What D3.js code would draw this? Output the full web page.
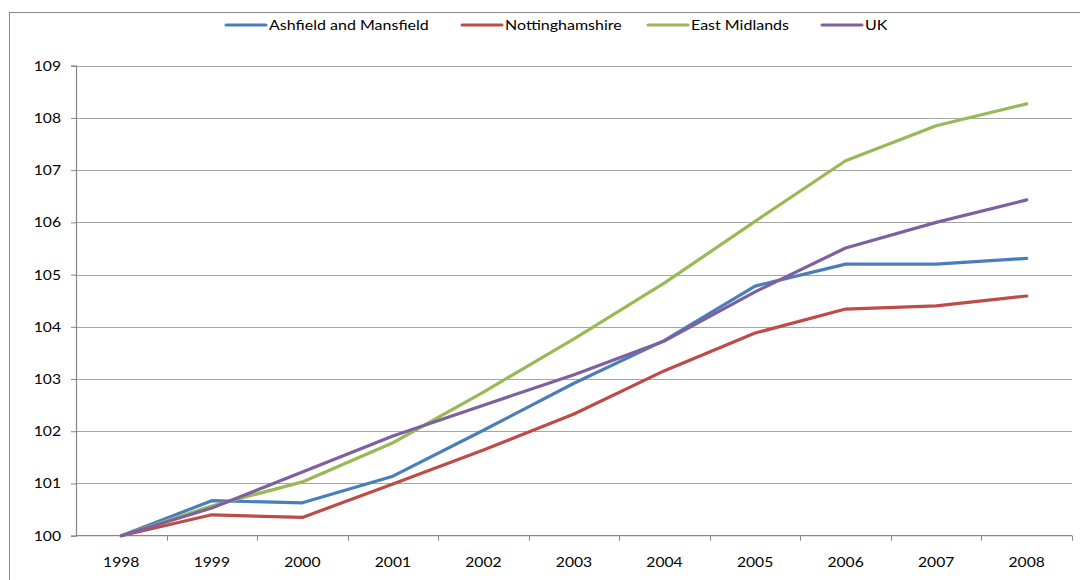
<!DOCTYPE html>
<html>
<head>
<meta charset="utf-8">
<script src="https://cdn.jsdelivr.net/npm/d3@7"></script>
<style>
  html, body { margin: 0; padding: 0; background: #fff; }
  svg text { font-family: Lato, "Open Sans", sans-serif; fill: #000; }
</style>
</head>
<body>
<svg id="chart" width="1080" height="580"></svg>
<script>
// Population index (1998 = 100)
const years = ["1998","1999","2000","2001","2002","2003","2004","2005","2006","2007","2008"];
const seriesNames = ["Ashfield and Mansfield", "Nottinghamshire", "East Midlands", "UK"];
const ashfieldMansfield = [100, 100.67, 100.63, 101.14, 102.02, 102.92, 103.74, 104.78, 105.20, 105.20, 105.31];
const nottinghamshire  = [100, 100.40, 100.35, 100.99, 101.64, 102.33, 103.16, 103.88, 104.34, 104.40, 104.59];
const eastMidlands     = [100, 100.57, 101.03, 101.78, 102.75, 103.77, 104.84, 106.02, 107.18, 107.85, 108.27];
const uk               = [100, 100.53, 101.22, 101.91, 102.50, 103.08, 103.73, 104.67, 105.51, 106.00, 106.43];
const yTicks = [100, 101, 102, 103, 104, 105, 106, 107, 108, 109];
const colors = ["#4A7EBB", "#BE4B48", "#98B954", "#7D60A0"];

const allSeries = [ashfieldMansfield, nottinghamshire, eastMidlands, uk];

const svg = d3.select("#chart");
const plot = { left: 76, right: 1072, top: 65.7, bottom: 535.7 };
const TEXT_STRETCH = 1.12;

// chart frame
svg.append("rect")
  .attr("x", 9.5).attr("y", 12.5)
  .attr("width", 1100).attr("height", 600)
  .attr("fill", "none").attr("stroke", "#868686").attr("stroke-width", 1);

const x = d3.scaleBand().domain(years).range([plot.left, plot.right]).padding(0);
const y = d3.scaleLinear().domain([100, 109]).range([plot.bottom, plot.top]);

// horizontal gridlines
svg.append("g")
  .selectAll("line")
  .data(yTicks.filter(t => t !== 100))
  .join("line")
  .attr("x1", plot.left).attr("x2", plot.right)
  .attr("y1", d => Math.round(y(d)) + 0.5).attr("y2", d => Math.round(y(d)) + 0.5)
  .attr("stroke", "#A6A6A6").attr("stroke-width", 1.2);

// y axis
const yAxis = svg.append("g")
  .attr("transform", `translate(${plot.left},0)`)
  .call(d3.axisLeft(y).tickValues(yTicks).tickFormat(d3.format("d")).tickSize(5).tickPadding(10));
yAxis.select(".domain").attr("stroke", "#868686").attr("stroke-width", 1.2);
yAxis.selectAll(".tick line").attr("stroke", "#868686");
yAxis.selectAll("text")
  .attr("font-size", 14)
  .attr("font-family", "Lato")
  .attr("fill", "#000")
  .each(function() {
    const t = d3.select(this);
    const xx = +t.attr("x");
    t.attr("x", xx / TEXT_STRETCH).attr("transform", `scale(${TEXT_STRETCH},1)`);
  });

// x axis: ticks sit on category boundaries
const xAxisG = svg.append("g").attr("transform", `translate(0,${plot.bottom})`);
xAxisG.append("line")
  .attr("x1", plot.left).attr("x2", plot.right)
  .attr("y1", 0).attr("y2", 0)
  .attr("stroke", "#868686").attr("stroke-width", 1.2);
const boundaries = years.map(yv => x(yv)).concat([x(years[years.length - 1]) + x.bandwidth()]).slice(1);
xAxisG.selectAll("line.tk")
  .data(boundaries)
  .join("line").attr("class", "tk")
  .attr("x1", d => Math.round(d) + 0.5).attr("x2", d => Math.round(d) + 0.5)
  .attr("y1", 0).attr("y2", 5)
  .attr("stroke", "#868686");
xAxisG.selectAll("text")
  .data(years)
  .join("text")
  .attr("x", d => (x(d) + x.bandwidth() / 2) / TEXT_STRETCH)
  .attr("transform", `scale(${TEXT_STRETCH},1)`)
  .attr("y", 31)
  .attr("text-anchor", "middle")
  .attr("font-size", 14)
  .text(d => d);

// series lines
const line = d3.line()
  .x((d, i) => x(years[i]) + x.bandwidth() / 2)
  .y(d => y(d));

svg.append("g")
  .selectAll("path")
  .data(allSeries)
  .join("path")
  .attr("d", d => line(d))
  .attr("fill", "none")
  .attr("stroke", (d, i) => colors[i])
  .attr("stroke-width", 3.2)
  .attr("stroke-linejoin", "round")
  .attr("stroke-linecap", "round");

// legend
const legendX = [226, 462, 648, 822];
const legend = svg.append("g").attr("transform", "translate(0,25)");
const items = legend.selectAll("g")
  .data(seriesNames)
  .join("g")
  .attr("transform", (d, i) => `translate(${legendX[i]},0)`);
items.append("line")
  .attr("x1", 0).attr("x2", 40)
  .attr("y1", 0).attr("y2", 0)
  .attr("stroke", (d, i) => colors[i])
  .attr("stroke-width", 3)
  .attr("stroke-linecap", "round");
items.append("text")
  .attr("x", 43 / TEXT_STRETCH)
  .attr("y", 5)
  .attr("transform", `scale(${TEXT_STRETCH},1)`)
  .attr("font-size", 14.3)
  .text(d => d);
</script>
</body>
</html>
